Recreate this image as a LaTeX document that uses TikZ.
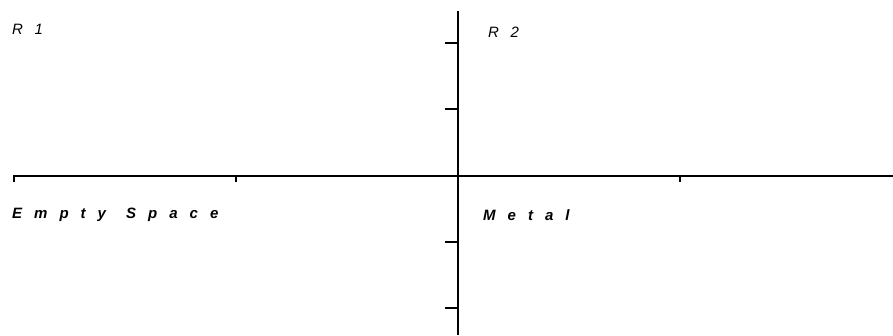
\documentclass[tikz,border=0pt]{standalone}
\usepackage{fontspec}
\setmainfont{Liberation Sans}
\begin{document}
\begin{tikzpicture}[x=1pt, y=-1pt,
    axis/.style={line width=2pt},
    region/.style={font=\fontsize{15}{17}\selectfont\itshape\addfontfeature{LetterSpace=50}, anchor=west, inner sep=0pt},
    medium/.style={font=\fontsize{15}{17}\selectfont\bfseries\itshape\addfontfeature{LetterSpace=80}, anchor=west, inner sep=0pt}]

    \useasboundingbox (0,0) rectangle (893,335);

    % Axes
    \coordinate (vtop) at (458,11);
    \coordinate (vbot) at (458,335);
    \coordinate (hleft) at (13,176);
    \coordinate (hright) at (893,176);
    \draw[axis] (vtop) -- (vbot);
    \draw[axis] (hleft) -- (hright);

    % Ticks
    \foreach \ty in {43,109,242,308}
        \draw[axis] (458,\ty) -- ++(-13,0);
    \foreach \tx in {14,236,680}
        \draw[axis] (\tx,176) -- ++(0,6);

    % Region labels
    \node[region] (r1) at (12,29) {R 1};
    \node[region] (r2) at (488,32) {R 2};
    \node[medium] (empty) at (12,215) {Empty\hspace{4pt} Space};
    \node[medium] (metal) at (483,215) {Metal};

\end{tikzpicture}
\end{document}
